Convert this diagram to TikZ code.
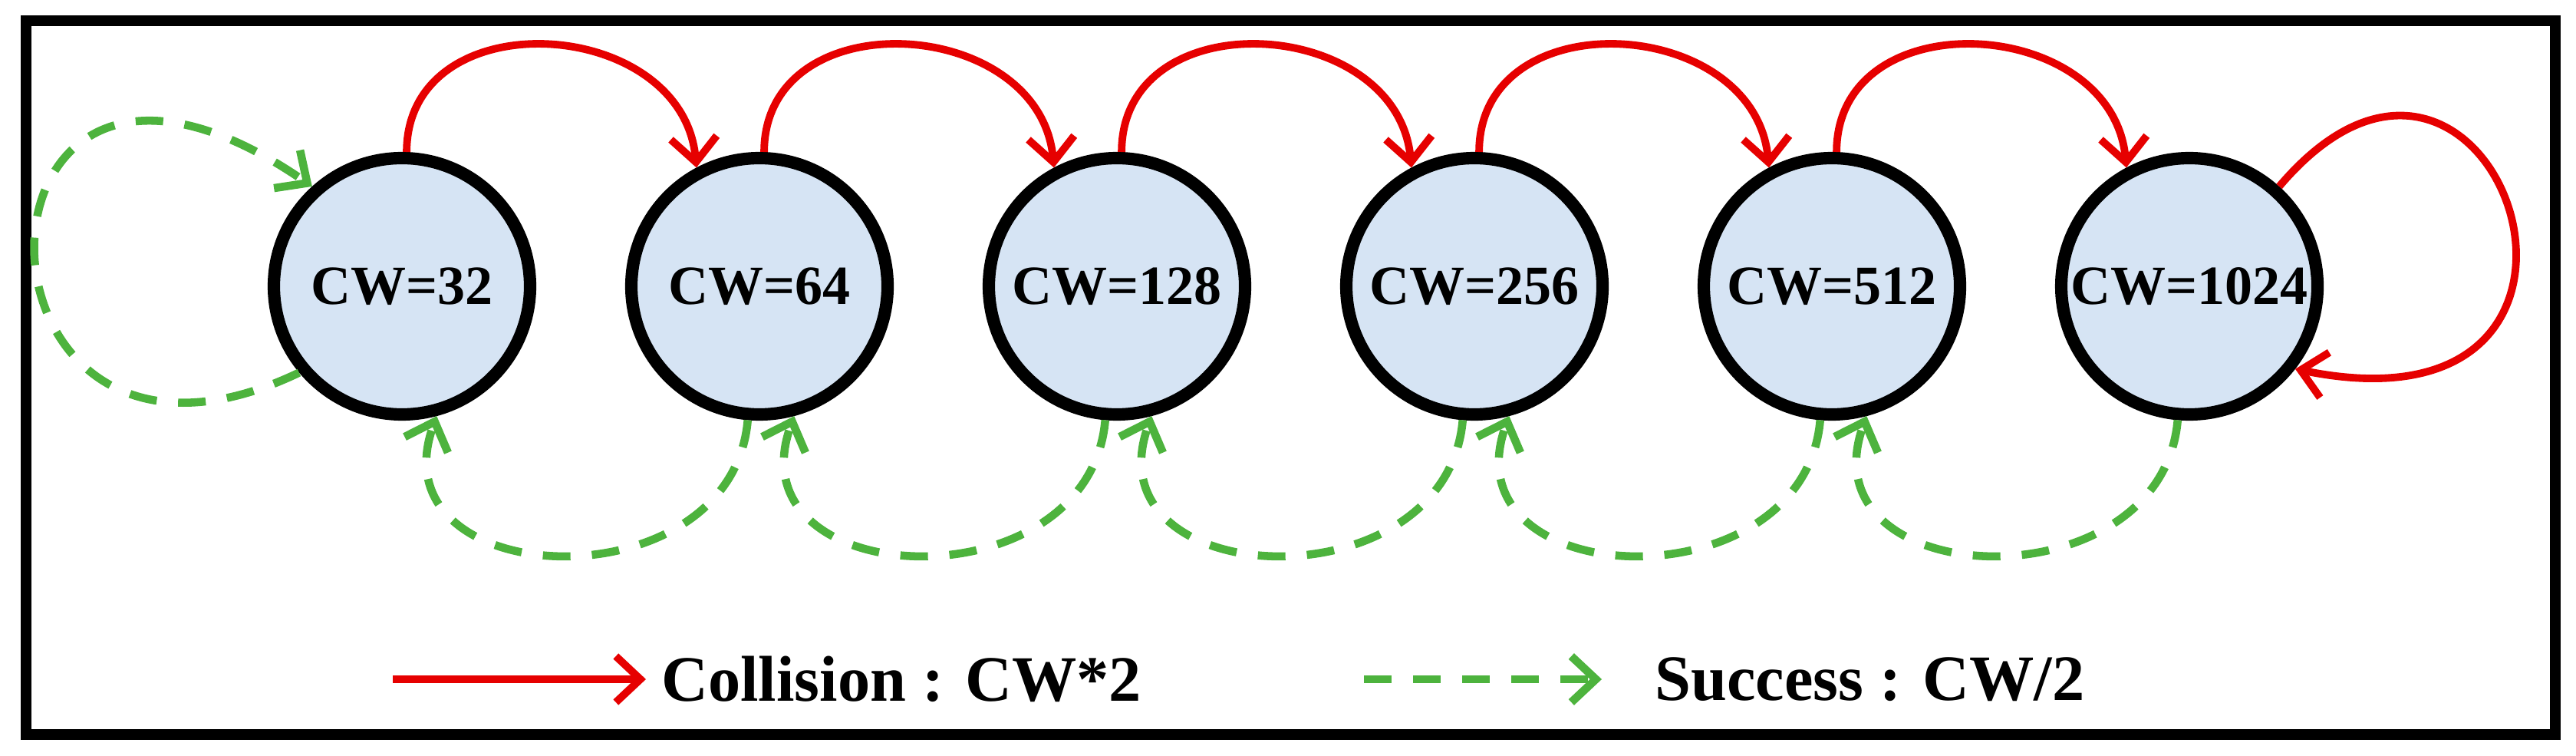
\documentclass[tikz,border=0pt]{standalone}
\usepackage{fontspec}
\setmainfont{Liberation Serif}
\usetikzlibrary{arrows.meta}
\definecolor{cwfill}{HTML}{D6E4F4}
\definecolor{colred}{HTML}{E60000}
\definecolor{sucgreen}{HTML}{4DB33D}
\tikzset{
  cw/.style={circle, draw=black, line width=4.6pt, fill=cwfill, minimum size=3.34cm, inner sep=0pt, font=\bfseries\fontsize{20.5}{20.5}\selectfont},
  col/.style={draw=colred, line width=2.8pt, -{Straight Barb[length=0.32cm,width=0.6cm,line width=2.8pt]}},
  suc/.style={draw=sucgreen, line width=3pt, dash pattern=on 0.36cm off 0.28cm, -{Straight Barb[length=0.32cm,width=0.6cm,line width=3pt]}}
}
\begin{document}
\begin{tikzpicture}
    \useasboundingbox (0,0) rectangle (33.58,9.84);
    \draw[line width=4.2pt] (0.34,0.27) rectangle (33.31,9.57);
    % states
    \node[cw] (c1) at (5.24,6.11) {CW=32};
    \node[cw] (c2) at (9.90,6.11) {CW=64};
    \node[cw] (c3) at (14.56,6.11) {CW=128};
    \node[cw] (c4) at (19.22,6.11) {CW=256};
    \node[cw] (c5) at (23.88,6.11) {CW=512};
    \node[cw] (c6) at (28.54,6.11) {CW=1024};
    % collisions
    \foreach \a/\b in {c1/c2, c2/c3, c3/c4, c4/c5, c5/c6}
        \draw[col] (\a.88) to[out=90, in=95, looseness=1.35] (\b.118);
    \draw[col] (c6.48) .. controls +(2.8,3.3) and +(4.9,-1.0) .. (c6.-38);
    % successes
    \foreach \a/\b in {c2/c1, c3/c2, c4/c3, c5/c4, c6/c5}
        \draw[suc] (\a.-95) to[out=-95, in=-110, looseness=1.55] (\b.-75);
    \draw[suc] (c1.-140) .. controls +(-4.6,-2.2) and +(-4.8,3.3) .. (c1.132);
    % legend
    \coordinate (l1) at (5.12,0.99);
    \coordinate (l2) at (8.42,0.99);
    \coordinate (l3) at (17.78,0.99);
    \coordinate (l4) at (20.88,0.99);
    \draw[col] (l1) -- (l2);
    \node[anchor=west, font=\bfseries\fontsize{24}{24}\selectfont] (tcol) at (8.5,0.99) {Collision : CW*2};
    \draw[suc] (l3) -- (l4);
    \node[anchor=west, font=\bfseries\fontsize{24}{24}\selectfont] (tsuc) at (21.45,0.99) {Success : CW/2};
\end{tikzpicture}
\end{document}
